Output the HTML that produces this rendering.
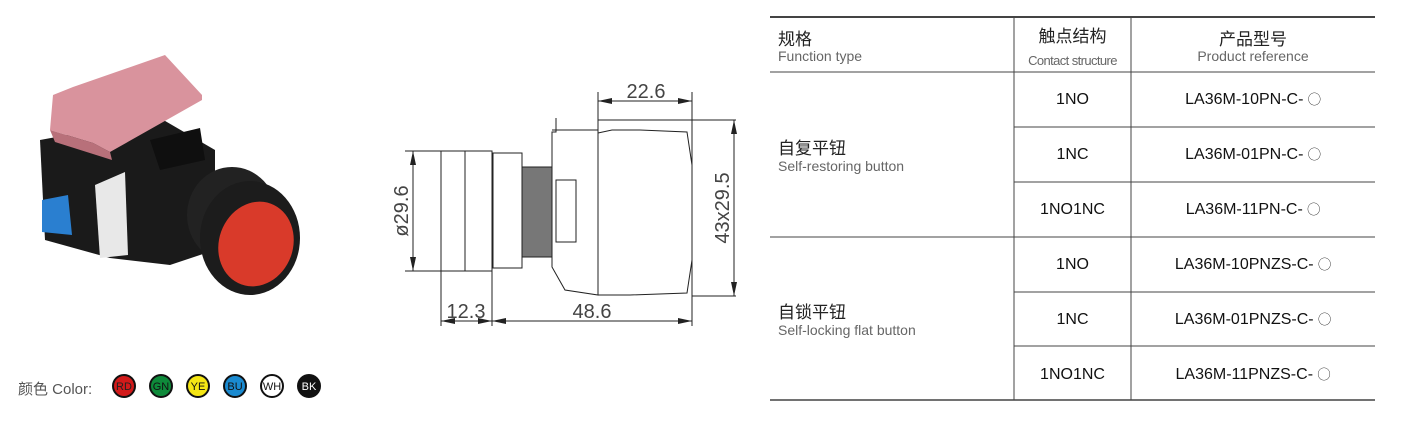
<!DOCTYPE html>
<html><head><meta charset="utf-8"><style>
body{margin:0;width:1405px;height:421px;background:#fff;overflow:hidden;position:relative;font-family:"Liberation Sans","Noto Sans CJK SC",sans-serif}
.t{position:absolute;white-space:nowrap}
.c{font-size:13px}
</style></head><body>
<svg width="1405" height="421" style="position:absolute;left:0;top:0">
<!-- photo -->
<polygon points="40,140 160,118 215,150 215,250 170,265 110,258 45,240" fill="#1a1a1a"/>
<polygon points="42,200 68,195 72,235 42,232" fill="#2a7fd0"/>
<polygon points="95,185 125,172 128,255 100,258" fill="#e8e8e8"/>
<polygon points="53,95 73,87 165,55 202,95 202,100 110,152 93,143 50,130" fill="#d9939d"/>
<polygon points="50,130 93,143 110,152 112,160 55,142" fill="#b8707a"/>
<polygon points="150,140 200,128 205,160 160,170" fill="#0f0f0f"/>
<ellipse cx="232" cy="215" rx="45" ry="48" fill="#222"/>
<ellipse cx="250" cy="238" rx="50" ry="57" fill="#1c1c1c"/>
<ellipse cx="256" cy="244" rx="37" ry="43" transform="rotate(20 256 244)" fill="#d93a2a"/>
<!-- drawing -->
<g stroke="#222" stroke-width="1" fill="none">
<rect x="441" y="151" width="51" height="120"/>
<line x1="465" y1="151" x2="465" y2="271"/>
<rect x="493" y="153" width="29" height="115"/>
<rect x="522" y="167" width="30" height="90" fill="#777"/>
<polyline points="556,118 556,132 552,132 552,267 565,290 598,295 598,130 552,130"/>
<rect x="556" y="180" width="20" height="62"/>
<polyline points="598,133 612,130 640,130 687,132 692,165 692,260 687,293 630,295 598,295"/>
<line x1="598" y1="120" x2="736" y2="120"/>
<line x1="692" y1="296" x2="736" y2="296"/>
<line x1="598" y1="92" x2="598" y2="130"/>
<line x1="692" y1="92" x2="692" y2="326"/>
<line x1="598" y1="101" x2="692" y2="101"/>
<line x1="734" y1="120" x2="734" y2="296"/>
<line x1="405" y1="151" x2="441" y2="151"/>
<line x1="405" y1="271" x2="441" y2="271"/>
<line x1="413" y1="151" x2="413" y2="271"/>
<line x1="441" y1="271" x2="441" y2="326"/>
<line x1="492" y1="271" x2="492" y2="326"/>
<line x1="441" y1="321" x2="692" y2="321"/>
</g>
<g fill="#222">
<polygon points="598,101 612,98 612,104"/><polygon points="692,101 678,98 678,104"/>
<polygon points="734,120 731,134 737,134"/><polygon points="734,296 731,282 737,282"/>
<polygon points="413,151 410,165 416,165"/><polygon points="413,271 410,257 416,257"/>
<polygon points="441,321 455,318 455,324"/><polygon points="492,321 478,318 478,324"/>
<polygon points="492,321 506,318 506,324"/><polygon points="692,321 678,318 678,324"/>
</g>
<g font-family="Liberation Sans" font-size="20" fill="#444">
<text x="646" y="98" text-anchor="middle">22.6</text>
<text x="466" y="318" text-anchor="middle">12.3</text>
<text x="592" y="318" text-anchor="middle">48.6</text>
<text transform="translate(408 211) rotate(-90)" text-anchor="middle">ø29.6</text>
<text transform="translate(729 208) rotate(-90)" text-anchor="middle">43x29.5</text>
</g>
<!-- table -->
<g stroke="#444" fill="none">
<line x1="770" y1="17" x2="1375" y2="17" stroke-width="2"/>
<line x1="770" y1="72" x2="1375" y2="72"/>
<line x1="770" y1="237" x2="1375" y2="237"/>
<line x1="1014" y1="127" x2="1375" y2="127"/>
<line x1="1014" y1="182" x2="1375" y2="182"/>
<line x1="1014" y1="292" x2="1375" y2="292"/>
<line x1="1014" y1="346" x2="1375" y2="346"/>
<line x1="770" y1="400" x2="1375" y2="400" stroke-width="1.5"/>
<line x1="1014" y1="17" x2="1014" y2="400"/>
<line x1="1131" y1="17" x2="1131" y2="400"/>
</g>
<!-- color dots -->
<g stroke="#111" stroke-width="2">
<circle cx="124" cy="386" r="11" fill="#d21a1a"/>
<circle cx="161" cy="386" r="11" fill="#0e8a3a"/>
<circle cx="198" cy="386" r="11" fill="#f5e614"/>
<circle cx="235" cy="386" r="11" fill="#1a8ad0"/>
<circle cx="272" cy="386" r="11" fill="#fff"/>
<circle cx="309" cy="386" r="11" fill="#111"/>
</g>
<g font-family="Liberation Sans" font-size="11" text-anchor="middle">
<text x="124" y="390" fill="#222">RD</text><text x="161" y="390" fill="#111">GN</text>
<text x="198" y="390" fill="#111">YE</text><text x="235" y="390" fill="#111">BU</text>
<text x="272" y="390" fill="#111">WH</text><text x="309" y="390" fill="#fff">BK</text>
</g>
</svg>
<div class="t" style="left:18px;top:378px;font-size:15px;color:#555">颜色 Color:</div>
<div class="t" style="left:778px;top:25px;font-size:17px;color:#222">规格</div>
<div class="t" style="left:778px;top:48px;font-size:14px;color:#666">Function type</div>
<div class="t" style="left:1014px;width:117px;text-align:center;top:22px;font-size:17px;color:#222">触点结构</div>
<div class="t" style="left:1014px;width:117px;text-align:center;top:53px;font-size:13px;color:#666;letter-spacing:-0.6px">Contact structure</div>
<div class="t" style="left:1131px;width:244px;text-align:center;top:25px;font-size:17px;color:#222">产品型号</div>
<div class="t" style="left:1131px;width:244px;text-align:center;top:48px;font-size:14px;color:#666">Product reference</div>
<div class="t" style="left:778px;top:134px;font-size:17px;color:#222">自复平钮</div>
<div class="t" style="left:778px;top:158px;font-size:14px;color:#666">Self-restoring button</div>
<div class="t" style="left:778px;top:298px;font-size:17px;color:#222">自锁平钮</div>
<div class="t" style="left:778px;top:322px;font-size:14px;color:#666">Self-locking flat button</div>
<div style="position:absolute;left:1014px;top:72px;width:117px;font-size:16px;color:#111;text-align:center">
<div style="height:55px;line-height:55px">1NO</div><div style="height:55px;line-height:55px">1NC</div><div style="height:55px;line-height:55px">1NO1NC</div>
<div style="height:55px;line-height:55px">1NO</div><div style="height:55px;line-height:55px">1NC</div><div style="height:55px;line-height:55px">1NO1NC</div></div>
<div style="position:absolute;left:1131px;top:72px;width:244px;font-size:16px;color:#111;text-align:center">
<div style="height:55px;line-height:55px">LA36M-10PN-C- <span class="c">◯</span></div><div style="height:55px;line-height:55px">LA36M-01PN-C- <span class="c">◯</span></div><div style="height:55px;line-height:55px">LA36M-11PN-C- <span class="c">◯</span></div>
<div style="height:55px;line-height:55px">LA36M-10PNZS-C- <span class="c">◯</span></div><div style="height:55px;line-height:55px">LA36M-01PNZS-C- <span class="c">◯</span></div><div style="height:55px;line-height:55px">LA36M-11PNZS-C- <span class="c">◯</span></div></div>
</body></html>
